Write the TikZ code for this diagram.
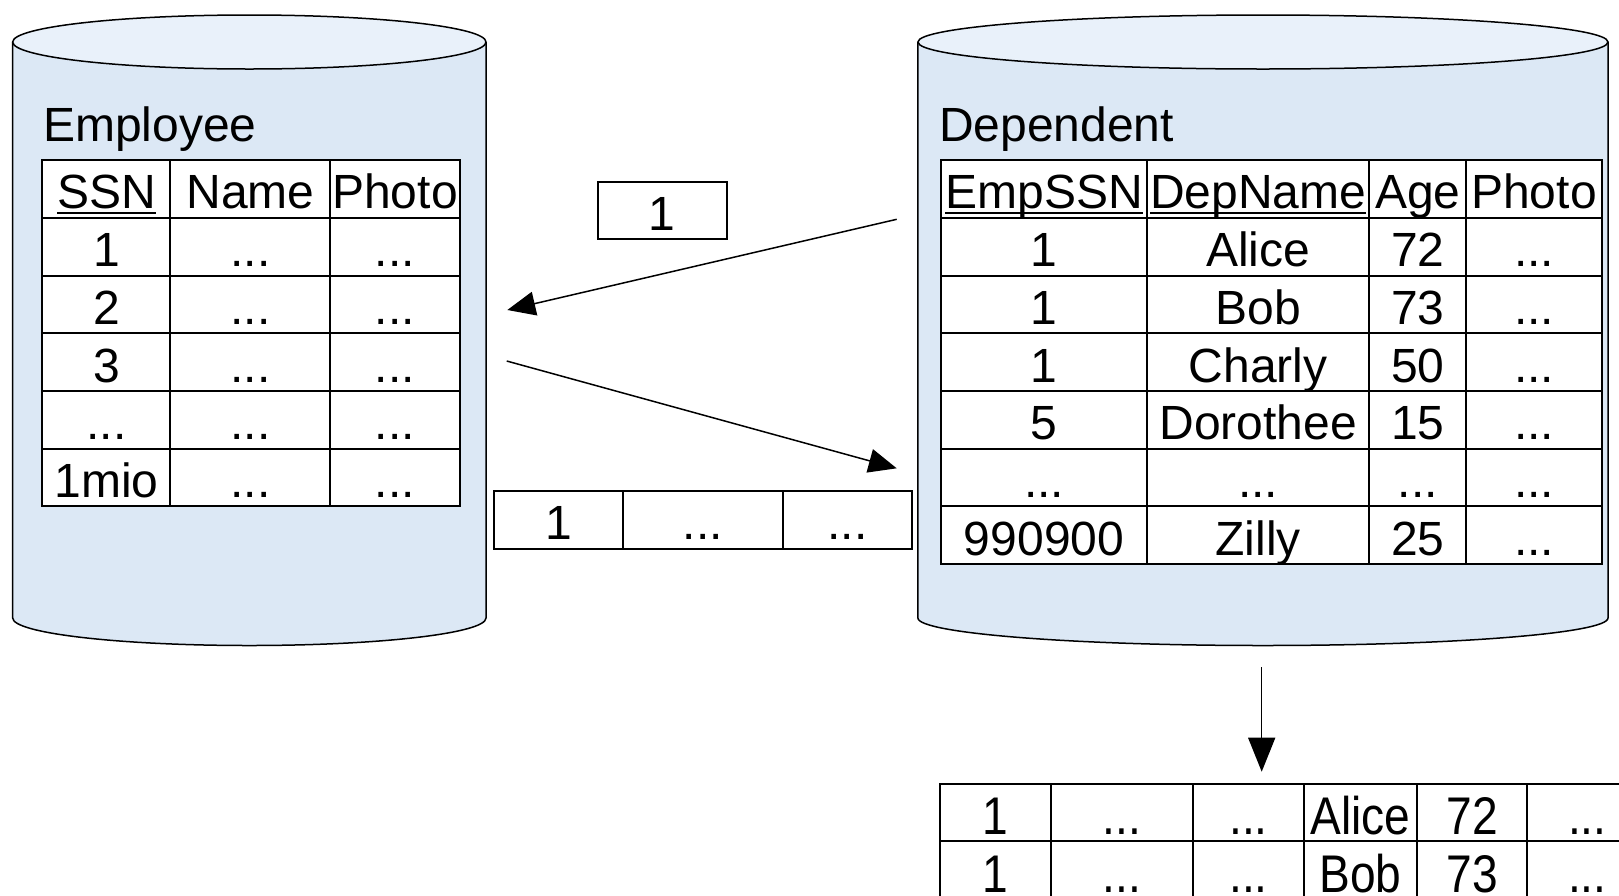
\documentclass[tikz,border=0pt]{standalone}
\usepackage{fontspec}
\setmainfont{Liberation Sans}
\newfontfamily\narrowfont[FakeStretch=0.87]{Liberation Sans}
\usetikzlibrary{matrix,arrows.meta}
\definecolor{cylbody}{HTML}{DCE8F5}
\definecolor{cyltop}{HTML}{E9F1FA}
\newcommand\ulx[1]{\leavevmode\setbox0\hbox{#1}\rlap{\rule[-5pt]{\wd0}{2pt}}\box0}
\tikzset{
  cell/.style={draw, line width=2pt, inner sep=0pt, minimum height=57.7pt,
    text height=48.7pt, text depth=9pt, fill=white},
  tbl/.style={matrix of nodes, inner sep=0pt, column sep=-2pt, row sep=-2pt,
    anchor=north west, nodes={cell}},
  cyl/.style={line width=1.5pt, draw=black},
  title/.style={anchor=base west, inner sep=0pt},
  conn/.style={line width=1.5pt, -{Triangle[length=28pt,width=24pt]}},
}
\begin{document}
\begin{tikzpicture}[x=1pt,y=-1pt,font=\fontsize{48}{56}\selectfont]
\clip (0,0) rectangle (1619,895);
\useasboundingbox (0,0) rectangle (1619,895);
% left cylinder
\fill[cylbody] (12.7,42) -- (12.7,618) arc[start angle=180,end angle=0,x radius=236.65,y radius=27.5] -- (486,42) -- cycle;
\draw[cyl] (12.7,42) -- (12.7,618) arc[start angle=180,end angle=0,x radius=236.65,y radius=27.5] -- (486,42);
\filldraw[cyl, fill=cyltop] (249.35,42) ellipse [x radius=236.65, y radius=27];
% right cylinder
\fill[cylbody] (917.9,42) -- (917.9,618) arc[start angle=180,end angle=0,x radius=345.05,y radius=27.5] -- (1608,42) -- cycle;
\draw[cyl] (917.9,42) -- (917.9,618) arc[start angle=180,end angle=0,x radius=345.05,y radius=27.5] -- (1608,42);
\filldraw[cyl, fill=cyltop] (1262.95,42) ellipse [x radius=345.05, y radius=27];

\node[title] (empt) at (43,141) {Employee};
\node[title] (dept) at (939,141) {Dependent};

\matrix (emp) [tbl,
  column 1/.style={nodes={minimum width=128pt}},
  column 2/.style={nodes={minimum width=160pt}},
  column 3/.style={nodes={minimum width=129pt}}] at (41.3,159) {
\ulx{SSN} & Name & Photo \\
1 & ... & ... \\
2 & ... & ... \\
3 & ... & ... \\
... & ... & ... \\
1mio & ... & ... \\
};

\matrix (dep) [tbl,
  column 1/.style={nodes={minimum width=206.5pt}},
  column 2/.style={nodes={minimum width=222pt}},
  column 3/.style={nodes={minimum width=97.1pt}},
  column 4/.style={nodes={minimum width=135.2pt}}] at (939.6,159) {
\ulx{EmpSSN} & \ulx{DepName} & Age & Photo \\
1 & Alice & 72 & ... \\
1 & Bob & 73 & ... \\
1 & Charly & 50 & ... \\
5 & Dorothee & 15 & ... \\
... & ... & ... & ... \\
990900 & Zilly & 25 & ... \\
};

\node[cell, minimum width=129pt, anchor=north west] (key) at (596.5,180.7) {1};

\matrix (row) [tbl,
  column 1/.style={nodes={minimum width=128.7pt}},
  column 2/.style={nodes={minimum width=160pt}},
  column 3/.style={nodes={minimum width=129pt}}] at (493,490) {
1 & ... & ... \\
};

\matrix (res) [tbl, nodes={font=\narrowfont\fontsize{53}{60}\selectfont, text height=50.7pt, text depth=7pt},
  column 1/.style={nodes={minimum width=111.5pt}},
  column 2/.style={nodes={minimum width=141.4pt}},
  column 3/.style={nodes={minimum width=111.5pt}},
  column 4/.style={nodes={minimum width=112.6pt}},
  column 5/.style={nodes={minimum width=110.5pt}},
  column 6/.style={nodes={minimum width=120pt}}] at (938.6,782.5) {
1 & ... & ... & Alice & 72 & ... \\
1 & ... & ... & Bob & 73 & ... \\
};

\coordinate (a1s) at (896.7,219.3);
\coordinate (a1e) at (507.3,310);
\coordinate (a2s) at (506.7,361);
\coordinate (a2e) at (896.7,468.3);
\coordinate (d0) at (1261.7,667);
\coordinate (d1) at (1261.7,771.7);
\draw[conn] (a1s) -- (a1e);
\draw[conn] (a2s) -- (a2e);
\draw[line width=1.5pt, -{Triangle[length=34pt,width=27pt]}] (d0) -- (d1);
\end{tikzpicture}
\end{document}
